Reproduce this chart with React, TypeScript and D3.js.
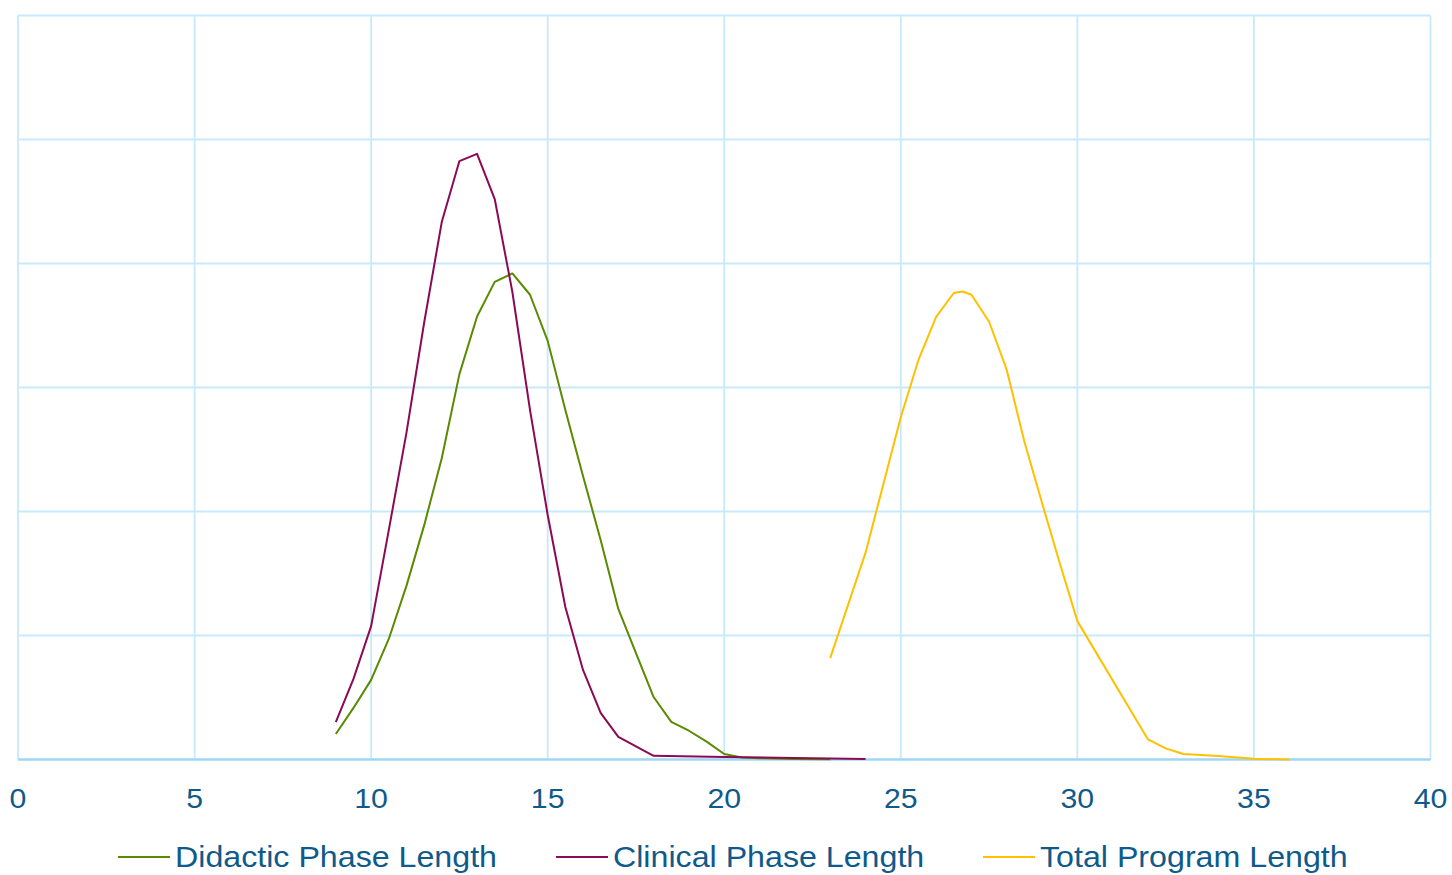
import React from "react";
import * as d3 from "d3";

const xTicks = [0, 5, 10, 15, 20, 25, 30, 35, 40];
const yTicks = [0, 0.05, 0.1, 0.15, 0.2, 0.25, 0.3];

const didacticX = [9, 9.5, 10, 10.5, 11, 11.5, 12, 12.5, 13, 13.5, 14, 14.5, 15, 15.5, 16, 16.5, 17, 17.5, 18, 18.5, 19, 19.5, 20, 20.5, 21, 22, 23];
const didacticY = [0.0103, 0.0208, 0.0321, 0.0486, 0.07, 0.0943, 0.1215, 0.1554, 0.1786, 0.1926, 0.196, 0.1874, 0.1688, 0.1409, 0.1143, 0.0885, 0.0607, 0.0429, 0.0252, 0.0152, 0.0116, 0.0072, 0.0022, 0.0008, 0.0005, 0.0002, 0.0001];

const clinicalX = [9, 9.5, 10, 10.5, 11, 11.5, 12, 12.5, 13, 13.5, 14, 14.5, 15, 15.5, 16, 16.5, 17, 18, 20, 22, 24];
const clinicalY = [0.0151, 0.0325, 0.0538, 0.0925, 0.1317, 0.176, 0.2167, 0.2413, 0.2442, 0.226, 0.1885, 0.1409, 0.0986, 0.0615, 0.0361, 0.0188, 0.0091, 0.0015, 0.001, 0.0006, 0.0002];

const totalX = [23, 24, 25, 25.5, 26, 26.5, 26.75, 27, 27.5, 28, 28.5, 29, 29.5, 30, 32, 32.5, 33, 34, 35, 36];
const totalY = [0.0409, 0.0833, 0.1381, 0.1611, 0.1785, 0.1881, 0.1887, 0.1874, 0.1765, 0.1571, 0.1281, 0.1034, 0.0792, 0.0558, 0.0081, 0.0045, 0.0022, 0.0014, 0.0003, 0.0];

const seriesNames = ["Didactic Phase Length", "Clinical Phase Length", "Total Program Length"];
const seriesColors = ["#5A8A00", "#8A0A55", "#FFC000"];

export default function App() {
  const W = 1452, H = 875;
  const left = 18, right = 1430.5, top = 15.5, bottom = 759.5;
  const x = d3.scaleLinear().domain([0, 40]).range([left, right]);
  const y = d3.scaleLinear().domain([0, 0.3]).range([bottom, top]);
  const line = d3.line<[number, number]>().x(d => x(d[0])).y(d => y(d[1])).curve(d3.curveLinear);
  const series = [
    didacticX.map((v, i) => [v, didacticY[i]] as [number, number]),
    clinicalX.map((v, i) => [v, clinicalY[i]] as [number, number]),
    totalX.map((v, i) => [v, totalY[i]] as [number, number]),
  ];
  const textColor = "#0F5A8A";
  const font = "'Liberation Sans', Arial, sans-serif";
  const legendX = [118, 556, 983];
  return (
    <svg width={W} height={H} style={{ position: "absolute", left: 0, top: 0 }}>
      <rect x={0} y={0} width={W} height={H} fill="#fff" />
      {yTicks.map(t => (
        <line key={"gy" + t} x1={left} x2={right} y1={y(t)} y2={y(t)} stroke={t === 0 ? "#9FD6F5" : "#C8E9FA"} strokeWidth={t === 0 ? 2 : 1.8} />
      ))}
      {xTicks.map(t => (
        <line key={"gx" + t} x1={x(t)} x2={x(t)} y1={top} y2={bottom} stroke="#C8E9FA" strokeWidth={1.8} />
      ))}
      <line x1={left} x2={right} y1={bottom} y2={bottom} stroke="#9FD6F5" strokeWidth={2} />
      {series.map((s, i) => (
        <path key={"s" + i} d={line(s) || ""} fill="none" stroke={seriesColors[i]} strokeWidth={2} strokeLinejoin="round" />
      ))}
      {xTicks.map(t => (
        <text key={"tx" + t} x={x(t)} y={808} textAnchor="middle" fontFamily={font} fontSize={28} fill={textColor} transform={`translate(${x(t)},0) scale(1.08,1) translate(${-x(t)},0)`}>{t}</text>
      ))}
      {seriesNames.map((n, i) => (
        <g key={"lg" + i}>
          <line x1={legendX[i]} x2={legendX[i] + 52} y1={857} y2={857} stroke={seriesColors[i]} strokeWidth={2} />
          <text x={legendX[i] + 57} y={867} fontFamily={font} fontSize={29} fill={textColor} transform={`translate(${legendX[i] + 57},0) scale(1.11,1) translate(${-(legendX[i] + 57)},0)`}>{n}</text>
        </g>
      ))}
    </svg>
  );
}
